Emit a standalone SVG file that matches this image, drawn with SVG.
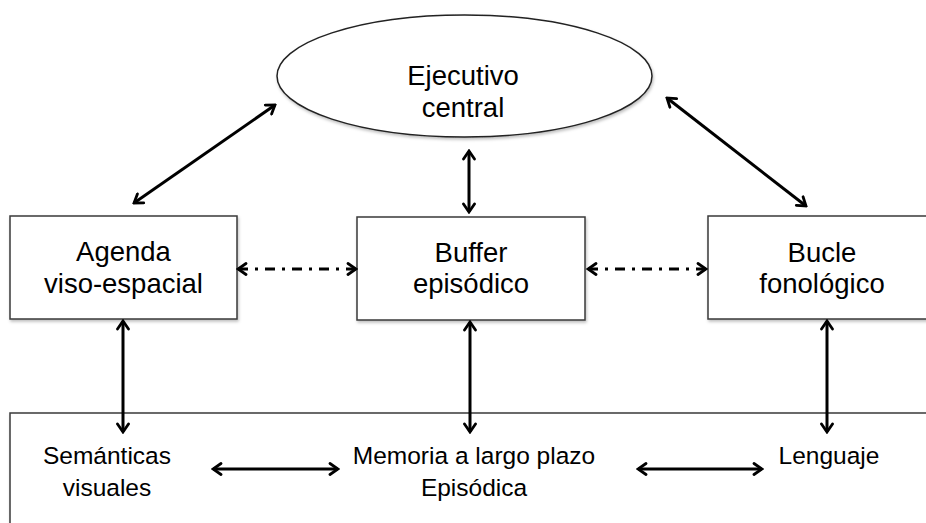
<svg xmlns="http://www.w3.org/2000/svg" width="926" height="523" viewBox="0 0 926 523">
<style>
.box{fill:#fff;stroke:#3a3a3a;stroke-width:1.5;filter:url(#sh)}
.t{font-family:"Liberation Sans",Arial,sans-serif;font-size:27.5px;fill:#000;text-anchor:middle}
.b{font-family:"Liberation Sans",Arial,sans-serif;font-size:24.5px;fill:#000;text-anchor:middle}
.c{fill:none;stroke:#000;stroke-width:3;marker-start:url(#ah);marker-end:url(#ah)}
.d{stroke-dasharray:10 7 3 7}
</style>
<defs>
<filter id="sh" x="-5%" y="-5%" width="115%" height="120%">
<feDropShadow dx="1" dy="2" stdDeviation="1.5" flood-color="#000" flood-opacity="0.25"/>
</filter>
<marker id="ah" viewBox="0 0 14 14" refX="12" refY="7" markerWidth="14" markerHeight="14" markerUnits="userSpaceOnUse" orient="auto-start-reverse">
<path d="M4,1.5 L12,7 L4,12.5" fill="none" stroke="#000" stroke-width="2.8" stroke-linecap="round" stroke-linejoin="miter"/>
</marker>
</defs>
<g id="ejecutivo">
<ellipse cx="464.5" cy="76" rx="187.5" ry="61" fill="#fff" stroke="#222" stroke-width="1.5" filter="url(#sh)"/>
<text class="t" x="463" y="85">Ejecutivo</text>
<text class="t" x="463" y="117">central</text>
</g>
<g id="agenda">
<rect class="box" x="10" y="216" width="227" height="103"/>
<text class="t" x="123.5" y="261">Agenda</text>
<text class="t" x="123.5" y="293">viso-espacial</text>
</g>
<g id="buffer">
<rect class="box" x="357" y="217" width="228" height="103"/>
<text class="t" x="471" y="262">Buffer</text>
<text class="t" x="471" y="293">episódico</text>
</g>
<g id="bucle">
<rect class="box" x="708" y="216" width="230" height="103"/>
<text class="t" x="822" y="262">Bucle</text>
<text class="t" x="822" y="293">fonológico</text>
</g>
<g id="memoria">
<rect class="box" x="10" y="413" width="930" height="130"/>
<text class="b" x="107" y="464">Semánticas</text>
<text class="b" x="107" y="496">visuales</text>
<text class="b" x="474" y="464">Memoria a largo plazo</text>
<text class="b" x="474" y="496">Episódica</text>
<text class="b" x="829" y="464">Lenguaje</text>
</g>
<g id="connectors">
<line class="c" x1="134" y1="203" x2="275" y2="105"/>
<line class="c" x1="806" y1="206" x2="667" y2="98"/>
<line class="c" x1="469" y1="151" x2="469" y2="212"/>
<line class="c d" x1="238" y1="269" x2="356" y2="269"/>
<line class="c d" x1="588" y1="269" x2="706" y2="269"/>
<line class="c" x1="123" y1="321" x2="123" y2="432"/>
<line class="c" x1="470" y1="322" x2="470" y2="432"/>
<line class="c" x1="827" y1="321" x2="827" y2="432"/>
<line class="c" x1="213" y1="469" x2="338" y2="469"/>
<line class="c" x1="638" y1="469" x2="762" y2="469"/>
</g>
</svg>
